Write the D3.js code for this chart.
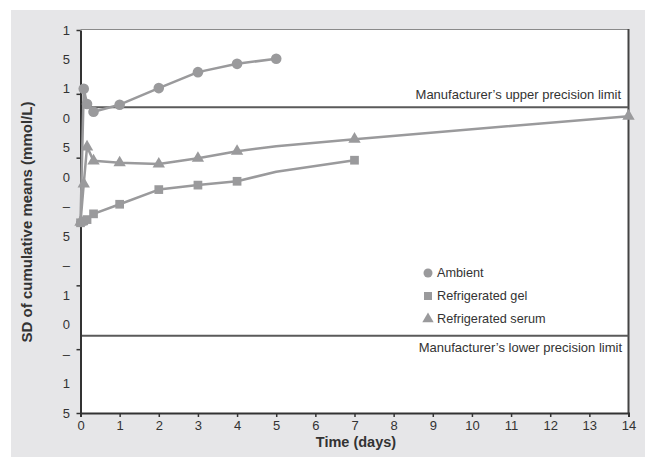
<!DOCTYPE html>
<html>
<head>
<meta charset="utf-8">
<script src="https://cdn.jsdelivr.net/npm/d3@7"></script>
<style>
  html, body { margin: 0; padding: 0; background: #ffffff; }
  svg { display: block; }
  text { font-family: "Liberation Sans", Arial, sans-serif; fill: #333; }
</style>
</head>
<body>
<svg id="chart" width="645" height="457"></svg>
<script>
// Sampling times (days)
const timesAmbient = [0, 0.083, 0.167, 0.333, 1, 2, 3, 4, 5];
const timesGel     = [0, 0.083, 0.167, 0.333, 1, 2, 3, 4, 5, 7];
const timesSerum   = [0, 0.083, 0.167, 0.333, 1, 2, 3, 4, 5, 7, 14];

// SD of cumulative means (mmol/L)
const ambient = [0.299, 0.508, 0.484, 0.472, 0.483, 0.509, 0.534, 0.547, 0.555];
const gel     = [0.298, 0.301, 0.303, 0.312, 0.327, 0.350, 0.357, 0.363, 0.378, 0.396];
const serum   = [0.299, 0.359, 0.417, 0.395, 0.392, 0.390, 0.399, 0.410, 0.418, 0.429, 0.465];

// Days on which a marker is shown for each series
const markedGel   = [0, 0.083, 0.167, 0.333, 1, 2, 3, 4, 7];
const markedSerum = [0, 0.083, 0.167, 0.333, 1, 2, 3, 4, 7, 14];

// Manufacturer's precision limits
const upperLimit = 0.479;
const lowerLimit = 0.121;

// Axis ticks and labels
const xTicks = d3.range(0, 15);
const yTicks = [0, 0.1, 0.2, 0.3, 0.4, 0.5, 0.6];
const yTickLabels = ["1", "5", "1", "0", "5", "0", "–", "5", "–", "1", "0", "–", "1", "5"];

const seriesNames = ["Ambient", "Refrigerated gel", "Refrigerated serum"];

const svg = d3.select("#chart");
const grey = "#9a9a9c";

// Panel background
svg.append("rect").attr("x", 11).attr("y", 10).attr("width", 634).attr("height", 447).attr("fill", "#e6e6e8");

const pLeft = 80.5, pRight = 628.5, pTop = 30, pBottom = 413;
svg.append("rect").attr("x", pLeft).attr("y", pTop).attr("width", pRight - pLeft).attr("height", pBottom - pTop).attr("fill", "#fff");

const x = d3.scaleLinear().domain([0, 14]).range([pLeft, pRight]);
const y = d3.scaleLinear().domain([0, 0.6]).range([pBottom, pTop]);

// Frame: light top edge, dark right edge
svg.append("line").attr("x1", pLeft).attr("x2", pRight).attr("y1", pTop - 0.5).attr("y2", pTop - 0.5)
  .attr("stroke", "#8a8a8a").attr("stroke-width", 1);
svg.append("line").attr("x1", pRight).attr("x2", pRight).attr("y1", pTop - 1).attr("y2", pBottom)
  .attr("stroke", "#444").attr("stroke-width", 2);

// Precision limit lines
[upperLimit, lowerLimit].forEach(v => {
  svg.append("line").attr("x1", pLeft).attr("x2", pRight).attr("y1", y(v)).attr("y2", y(v))
    .attr("stroke", "#5a5a5a").attr("stroke-width", 2);
});
svg.append("text").attr("x", 621).attr("y", y(upperLimit) - 13).attr("dy", "0.35em")
  .attr("text-anchor", "end").attr("font-size", 13).text("Manufacturer’s upper precision limit");
svg.append("text").attr("x", 622).attr("y", y(lowerLimit) + 12).attr("dy", "0.35em")
  .attr("text-anchor", "end").attr("font-size", 13).text("Manufacturer’s lower precision limit");

// Axes
const xAxis = svg.append("g").attr("transform", `translate(0,${pBottom})`)
  .call(d3.axisBottom(x).tickValues(xTicks).tickFormat(d3.format("d")).tickSize(4).tickPadding(4));
xAxis.select(".domain").attr("stroke", "#333").attr("stroke-width", 2);
xAxis.selectAll(".tick line").attr("stroke", "#333").attr("stroke-width", 1.5);
xAxis.selectAll("text").attr("font-size", 13).attr("fill", "#444").attr("font-family", "Liberation Sans, Arial, sans-serif");

const yAxis = svg.append("g").attr("transform", `translate(${pLeft},0)`)
  .call(d3.axisLeft(y).tickValues(yTicks).tickFormat("").tickSize(4).tickSizeOuter(0));
yAxis.select(".domain").attr("stroke", "#333").attr("stroke-width", 2);
yAxis.selectAll(".tick line").attr("stroke", "#333").attr("stroke-width", 1.5);

const yLab = d3.scalePoint().domain(d3.range(yTickLabels.length)).range([y(0.6), y(0)]);
svg.append("g").selectAll("text").data(yTickLabels).join("text")
  .attr("x", 70).attr("y", (d, i) => yLab(i)).attr("dy", "0.35em")
  .attr("text-anchor", "end").attr("font-size", 13).attr("fill", "#444").text(d => d);

// Axis titles
svg.append("text").attr("transform", `translate(32,222) rotate(-90)`)
  .attr("text-anchor", "middle").attr("font-size", 15).attr("font-weight", "bold")
  .attr("fill", "#222").text("SD of cumulative means (mmol/L)");
svg.append("text").attr("x", 356).attr("y", 447).attr("text-anchor", "middle")
  .attr("font-size", 14.5).attr("font-weight", "bold").attr("fill", "#222").text("Time (days)");

// Series lines
const line = d3.line().x(d => x(d[0])).y(d => y(d[1]));
const pts = (t, v) => t.map((d, i) => [d, v[i]]);
const gelPts = pts(timesGel, gel), serumPts = pts(timesSerum, serum), ambPts = pts(timesAmbient, ambient);

[gelPts, serumPts, ambPts].forEach(p => {
  svg.append("path").datum(p).attr("d", line).attr("fill", "none")
    .attr("stroke", grey).attr("stroke-width", 2.5).attr("stroke-linejoin", "round");
});

const sq = d3.symbol().type(d3.symbolSquare).size(76);
const tri = d3.symbol().type(d3.symbolTriangle).size(66);

svg.append("g").selectAll("path").data(gelPts.filter(d => markedGel.includes(d[0]))).join("path")
  .attr("d", sq).attr("transform", d => `translate(${x(d[0])},${y(d[1])})`).attr("fill", grey);
svg.append("g").selectAll("path").data(serumPts.filter(d => markedSerum.includes(d[0]))).join("path")
  .attr("d", tri).attr("transform", d => `translate(${x(d[0])},${y(d[1])})`).attr("fill", grey);
svg.append("g").selectAll("circle").data(ambPts.slice(1)).join("circle")
  .attr("cx", d => x(d[0])).attr("cy", d => y(d[1])).attr("r", 5.3).attr("fill", grey);

// Legend
const legend = svg.append("g").attr("transform", "translate(428,273)");
const legendShapes = [
  g => g.append("circle").attr("r", 4.5).attr("fill", grey),
  g => g.append("path").attr("d", d3.symbol().type(d3.symbolSquare).size(64)).attr("fill", grey),
  g => g.append("path").attr("d", d3.symbol().type(d3.symbolTriangle).size(56)).attr("fill", grey)
];
seriesNames.forEach((name, i) => {
  const g = legend.append("g").attr("transform", `translate(0,${i * 23})`);
  legendShapes[i](g);
  g.append("text").attr("x", 9).attr("dy", "0.35em").attr("font-size", 12.7).text(name);
});
</script>
</body>
</html>
